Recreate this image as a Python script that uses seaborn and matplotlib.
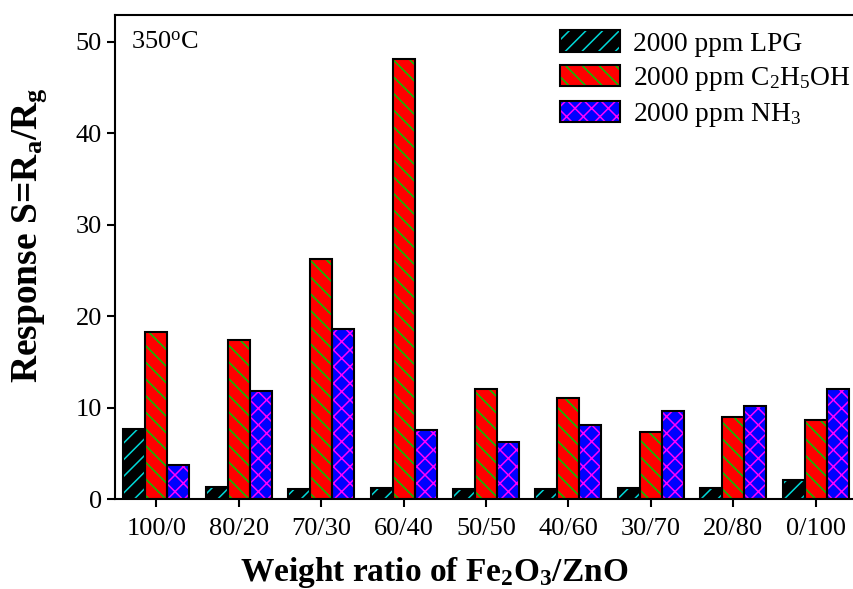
import matplotlib
matplotlib.use("Agg")
import matplotlib.pyplot as plt
import seaborn as sns
import pandas as pd
from matplotlib.patches import Patch

ratios = ["100/0", "80/20", "70/30", "60/40", "50/50", "40/60", "30/70", "20/80", "0/100"]
lpg = [7.6, 1.3, 1.05, 1.15, 1.05, 1.1, 1.2, 1.2, 2.1]
ethanol = [18.25, 17.4, 26.2, 48.1, 12.0, 11.0, 7.3, 9.0, 8.6]
nh3 = [3.7, 11.8, 18.6, 7.5, 6.2, 8.05, 9.6, 10.2, 12.05]

gases = ["2000 ppm LPG", "2000 ppm C$_2$H$_5$OH", "2000 ppm NH$_3$"]
face_colors = ["#000000", "#ff0000", "#0000ff"]
hatch_colors = ["#00d8d8", "#00c800", "#ff00ff"]
hatches = ["//", "\\\\", "xx"]

df = pd.DataFrame({
    "ratio": ratios * 3,
    "value": lpg + ethanol + nh3,
    "gas": [gases[0]] * 9 + [gases[1]] * 9 + [gases[2]] * 9,
})

sns.set_theme(style="ticks")
plt.rcParams["font.family"] = ["Liberation Serif", "DejaVu Serif"]
plt.rcParams["mathtext.fontset"] = "custom"
plt.rcParams["mathtext.rm"] = "Liberation Serif"
plt.rcParams["mathtext.it"] = "Liberation Serif:italic"
plt.rcParams["mathtext.bf"] = "Liberation Serif:bold"
plt.rcParams["hatch.linewidth"] = 1.1
for k in ["text.color", "axes.labelcolor", "xtick.color", "ytick.color", "axes.edgecolor"]:
    plt.rcParams[k] = "black"

fig = plt.figure(figsize=(8.54, 5.89), dpi=100)
ax = fig.add_axes([115 / 854, 90 / 589, 742 / 854, 484 / 589])

sns.barplot(data=df, x="ratio", y="value", hue="gas", order=ratios, hue_order=gases,
            palette=face_colors, saturation=1, linewidth=0, width=0.8, legend=False, ax=ax)
for cont, hc, h in zip(ax.containers, hatch_colors, hatches):
    for p in cont:
        p.set_edgecolor(hc)
        p.set_hatch(h)
        p.set_linewidth(0)

sns.barplot(data=df, x="ratio", y="value", hue="gas", order=ratios, hue_order=gases,
            palette=["black"] * 3, saturation=1, fill=False, linewidth=1.5, width=0.8,
            legend=False, ax=ax)

ax.set_xlim(-0.5, 8.5)
ax.set_ylim(0, 52.9)
ax.set_yticks([0, 10, 20, 30, 40, 50])
for s in ax.spines.values():
    s.set_linewidth(1.5)
    s.set_color("black")
ax.tick_params(axis="both", direction="out", length=6, width=1.5, labelsize=19, colors="black")
ax.tick_params(axis="x", pad=8)

ax.set_xlabel(r"Weight ratio of Fe$_\mathbf{2}$O$_\mathbf{3}$/ZnO", fontsize=24,
              fontweight="bold")
ax.set_ylabel(r"Response S=R$_\mathbf{a}$/R$_\mathbf{g}$", fontsize=27,
              fontweight="bold")
ax.xaxis.set_label_coords(0.43, -0.116)
ax.yaxis.set_label_coords(-0.089, 0.545)

ax.text(0.022, 0.942, r"350$^{\rm o}$C", transform=ax.transAxes, fontsize=19,
        va="center", ha="left")

handles = []
for fc, hc, h in zip(face_colors, hatch_colors, hatches):
    handles.append((Patch(facecolor=fc, edgecolor=hc, hatch=h, linewidth=0),
                    Patch(fill=False, edgecolor="black", linewidth=1.5)))
ax.legend(handles, gases, loc="upper right", bbox_to_anchor=(0.992, 0.968),
          frameon=False, fontsize=19.8, handlelength=2.18, handleheight=0.8,
          handletextpad=0.5, labelspacing=0.3, borderaxespad=0.0, borderpad=0.0)

fig.savefig("out.png", dpi=100)
